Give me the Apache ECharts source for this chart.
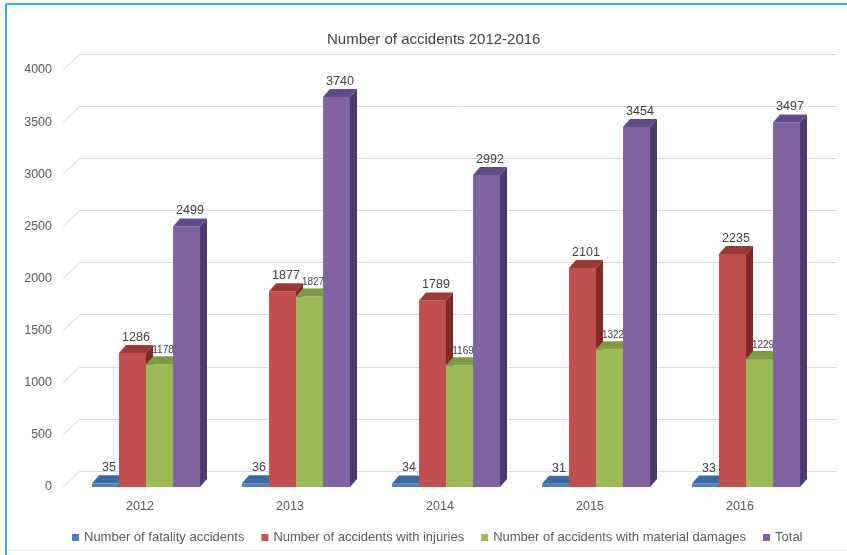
<!DOCTYPE html>
<html><head><meta charset="utf-8">
<script src="https://cdn.jsdelivr.net/npm/echarts@6/dist/echarts.min.js"></script>
<style>html,body{margin:0;padding:0;background:#fff}#c{width:847px;height:555px}</style>
</head><body><div id="c"></div>
<script>
const categories = ['2012','2013','2014','2015','2016'];
const fatality = [35,36,34,31,33];
const injuries = [1286,1877,1789,2101,2235];
const material = [1178,1827,1169,1322,1229];
const total = [2499,3740,2992,3454,3497];
const yTicks = [0,500,1000,1500,2000,2500,3000,3500,4000];
const seriesNames = ['Number of fatality accidents','Number of accidents with injuries','Number of accidents with material damages','Total'];

const FRONT = ['#4F81BD','#C0504D','#9BBB59','#8064A2'];
const TOP = ['#3C6BA2','#9C3936','#7D9C42','#624A87'];
const SIDE = ['#2E5382','#7F2A28','#627E31','#4C3A6B'];
const DX = 7, DY = 8;
const FONT = 'Liberation Sans';

function geom(s, api){
  const ci = api.value(0), v = api.value(1);
  const band = api.size([1,0])[0];
  const top = api.coord([ci, v]);
  const base = api.coord([ci, 0]);
  const w = band*0.18;
  const x0 = top[0] + band*(-0.32 + 0.18*s);
  return {x0:x0, x1:x0+w, w:w, yt:top[1], yb:base[1], v:v};
}
function barRender(s, withLabel){
  return function(params, api){
    const g = geom(s, api);
    const children = [
      {type:'rect', shape:{x:g.x0,y:g.yt,width:g.w,height:g.yb-g.yt}, style:{fill:FRONT[s]}},
      {type:'polygon', shape:{points:[[g.x1,g.yt],[g.x1+DX,g.yt-DY],[g.x1+DX,g.yb-DY],[g.x1,g.yb]]}, style:{fill:SIDE[s]}},
      {type:'polygon', shape:{points:[[g.x0,g.yt],[g.x0+DX,g.yt-DY],[g.x1+DX,g.yt-DY],[g.x1,g.yt]]}, style:{fill:TOP[s]}}
    ];
    if (withLabel) children.push(labelEl(g, 12.5));
    return {type:'group', children:children};
  };
}
function labelEl(g, size){
  return {type:'text', style:{text:String(g.v), x:(g.x0+g.x1)/2+DX/2, y:g.yt-DY-1,
    align:'center', verticalAlign:'bottom', fill:'#404040', font:'normal '+size+'px "'+FONT+'"'}};
}
function toData(arr){ return arr.map((v,i)=>[i,v]); }
const seriesData = [fatality, injuries, material, total];

const series = [];
// back wall diagonals
series.push({type:'custom', xAxisIndex:0, yAxisIndex:0, z:0, silent:true,
  data: yTicks.map(t=>[0,t]),
  renderItem:function(params, api){
    const band = api.size([1,0])[0];
    const p = api.coord([0, api.value(1)]);
    const left = p[0]-band/2;
    return {type:'line', shape:{x1:left-2,y1:p[1],x2:left+15,y2:p[1]-16}, style:{stroke:'#dcdcdc',lineWidth:1}};
  }});
// green labels (drawn beneath bars)
series.push({type:'custom', name:'greenLabels', z:1, silent:true, data:toData(material),
  renderItem:function(params, api){ return labelEl(geom(2, api), 10); }});
seriesData.forEach((arr,s)=>{
  series.push({type:'custom', name:seriesNames[s], z:2, data:toData(arr),
    itemStyle:{color:FRONT[s]}, renderItem:barRender(s, s!==2)});
});

const chart = echarts.init(document.getElementById('c'));
chart.setOption({
  animation:false,
  backgroundColor:'#fff',
  title:{text:'Number of accidents 2012-2016', left:322, top:27,
    textStyle:{fontFamily:FONT, fontSize:15, fontWeight:'normal', color:'#404040'}},
  legend:{data:seriesNames, top:526, left:67, icon:'rect', itemWidth:7, itemHeight:7, itemGap:17,
    textStyle:{fontFamily:FONT, fontSize:13, color:'#595959'}},
  grid:[{left:65, right:32, top:70, bottom:68},{left:80, right:10, top:54, bottom:84}],
  xAxis:[{type:'category', data:categories, gridIndex:0, axisLine:{show:false}, axisTick:{show:false},
      axisLabel:{margin:13, fontFamily:FONT, fontSize:12.5, color:'#595959'}},
    {type:'category', data:categories, gridIndex:1, show:false}],
  yAxis:[{type:'value', gridIndex:0, min:0, max:4000, interval:500, splitLine:{show:false},
      axisLine:{show:false}, axisTick:{show:false},
      axisLabel:{margin:13, fontFamily:FONT, fontSize:12.5, color:'#595959', formatter:(v)=>String(v)}},
    {type:'value', gridIndex:1, min:0, max:4000, interval:500, axisLabel:{show:false},
      axisLine:{show:false}, axisTick:{show:false}, splitLine:{lineStyle:{color:'#dcdcdc'}}}],
  graphic:[
    {type:'line', shape:{x1:6,y1:4,x2:847,y2:4}, style:{stroke:'#2BB7C0', lineWidth:2}},
    {type:'line', shape:{x1:6,y1:4,x2:6,y2:555}, style:{stroke:'#2BB7C0', lineWidth:2}},
    {type:'line', shape:{x1:7,y1:550,x2:847,y2:550}, style:{stroke:'#e6e6e6', lineWidth:1}}
  ],
  series:series
});
</script></body></html>
